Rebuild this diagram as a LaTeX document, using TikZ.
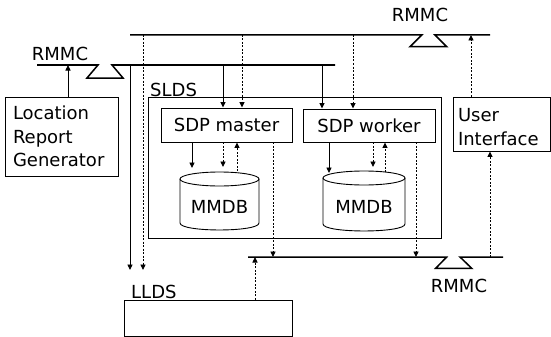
\documentclass[tikz,border=0pt]{standalone}
\usepackage{fontspec}
\setmainfont{DejaVu Sans}
\usetikzlibrary{arrows.meta}
\begin{document}
\begin{tikzpicture}[x=1pt,y=-1pt,
  every node/.style={font=\fontsize{18}{23.5}\selectfont, inner sep=0pt},
  box/.style={draw, line width=0.9pt},
  lbl/.style={anchor=base},
  arr/.style={-{Triangle[length=5.5pt,width=5pt]}, line width=0.9pt},
  dsh/.style={dash pattern=on 2pt off 1.5pt},
  bus/.style={line width=1.5pt},
  cyl/.style={line width=0.9pt}]
\useasboundingbox (0,0) rectangle (551,337);

% level coordinates
\coordinate (tbus) at (0,35);
\coordinate (lbus) at (0,65);
\coordinate (bbus) at (0,257);
\coordinate (lend) at (0,270);
\coordinate (mtopa) at (0,168);
\coordinate (mtopb) at (0,167);
\coordinate (mtopc) at (0,171);
\coordinate (wtopa) at (0,173);
\coordinate (wtopb) at (0,167);
\coordinate (wtopc) at (0,172);

% buses with RMMC taps
\draw[bus] (130,35) -- (421.7,35) -- (410,46.7) -- (446.7,46.7) -- (435,35) -- (490,35);
\draw[bus] (37,65) -- (98,65) -- (87,78) -- (123,78) -- (112,65) -- (335,65);
\draw[bus] (248,257) -- (446.7,257) -- (435.7,268.3) -- (471.7,268.3) -- (460,257) -- (503,257);

\node[lbl] (rmmct) at (420,22) {RMMC};
\node[lbl] (rmmcl) at (60,60) {RMMC};
\node[lbl] (rmmcb) at (459,292) {RMMC};

% boxes
\node[box, minimum width=113pt, minimum height=79pt, text width=97pt, align=left]
  (lrg) at (61.5,136.5) {Location\\Report\\Generator};
\node[box, minimum width=97pt, minimum height=54pt, text width=87pt, align=left]
  (ui) at (501.5,124) {\rule{0pt}{19pt}User\\Interface};
\node[box, minimum width=293pt, minimum height=141pt] (slds) at (294.5,167.5) {};
\node[anchor=base west] (sldsl) at (150,96) {SLDS};
\node[box, minimum width=131pt, minimum height=34pt] (sdpm) at (226.5,125) {SDP master};
\node[box, minimum width=132pt, minimum height=33pt] (sdpw) at (369,125.5) {SDP worker};
\node[box, minimum width=168pt, minimum height=36pt] (llds) at (208,318) {};
\node[anchor=base west] (lldsl) at (131,298) {LLDS};

% cylinders
\draw[cyl, fill=white] (219.5,179) ellipse [x radius=39.5, y radius=7];
\draw[cyl] (180,179) -- (180,223) .. controls (180,232.3) and (259,232.3) .. (259,223) -- (259,179);
\node (mmdbm) at (219.5,206.5) {MMDB};
\draw[cyl, fill=white] (364,178) ellipse [x radius=41, y radius=7];
\draw[cyl] (323,178) -- (323,224) .. controls (323,233.3) and (405,233.3) .. (405,224) -- (405,178);
\node (mmdbw) at (364,206.5) {MMDB};

% connectors
\draw[arr] (68,0 |- lrg.north) -- (68,0 |- lbus);
\draw[arr] (130,0 |- lbus) -- (130,0 |- lend);
\draw[arr,dsh] (143,0 |- tbus) -- (143,0 |- lend);
\draw[arr] (223,0 |- lbus) -- (223,0 |- sdpm.north);
\draw[arr,dsh] (242,0 |- tbus) -- (242,0 |- sdpm.north);
\draw[arr] (322,0 |- lbus) -- (322,0 |- sdpw.north);
\draw[arr,dsh] (353,0 |- tbus) -- (353,0 |- sdpw.north);
\draw[arr,dsh] (471,0 |- ui.north) -- (471,0 |- tbus);
\draw[arr,dsh] (490,0 |- bbus) -- (490,0 |- ui.south);

\draw[arr] (192,0 |- sdpm.south) -- (192,0 |- mtopa);
\draw[arr,dsh] (223,0 |- sdpm.south) -- (223,0 |- mtopb);
\draw[arr,dsh] (237,0 |- mtopc) -- (237,0 |- sdpm.south);
\draw[arr,dsh] (273,0 |- sdpm.south) -- (273,0 |- bbus);

\draw[arr] (329,0 |- sdpw.south) -- (329,0 |- wtopa);
\draw[arr,dsh] (373,0 |- sdpw.south) -- (373,0 |- wtopb);
\draw[arr,dsh] (385,0 |- wtopc) -- (385,0 |- sdpw.south);
\draw[arr,dsh] (416,0 |- sdpw.south) -- (416,0 |- bbus);

\draw[arr,dsh] (255,0 |- llds.north) -- (255,0 |- bbus);
\end{tikzpicture}
\end{document}
